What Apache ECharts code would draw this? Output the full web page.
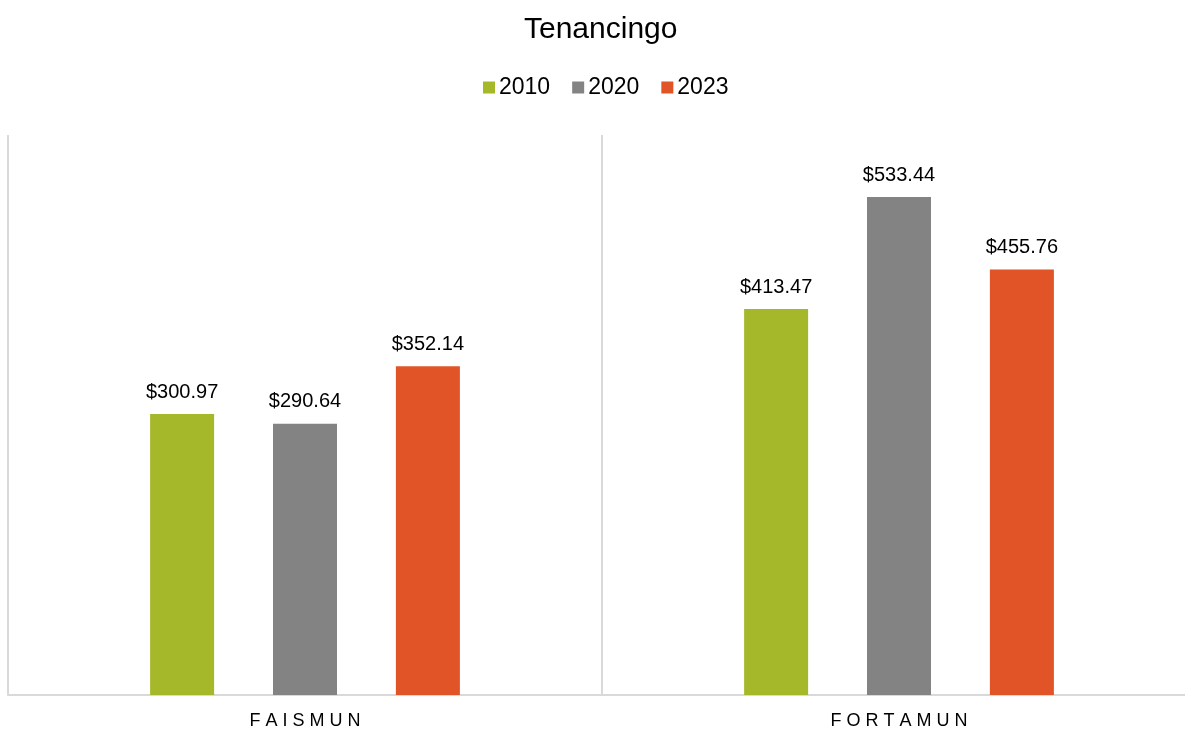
<!DOCTYPE html>
<html>
<head>
<meta charset="utf-8">
<script src="https://cdn.jsdelivr.net/npm/echarts@6/dist/echarts.min.js"></script>
<style>
  html, body { margin: 0; padding: 0; background: #fff; }
  #chart { width: 1185px; height: 731px; }
</style>
</head>
<body>
<div id="chart"></div>
<script>
    var categories = ['FAISMUN', 'FORTAMUN'];
    var years = ['2010', '2020', '2023'];
    var values2010 = [300.97, 413.47];
    var values2020 = [290.64, 533.44];
    var values2023 = [352.14, 455.76];
    var colors = ['#a5b829', '#838383', '#e05427'];

    var chart = echarts.init(document.getElementById('chart'));

    function barSeries(name, data, color) {
        return {
            name: name,
            type: 'bar',
            data: data,
            color: color,
            barWidth: 64,
            barGap: '92%',
            label: {
                show: true,
                position: 'top',
                distance: 12,
                color: '#000',
                fontSize: 20,
                fontFamily: 'Liberation Sans',
                formatter: function(p) { return '$' + p.value.toFixed(2); }
            }
        };
    }

    var option = {
        animation: false,
        textStyle: { fontFamily: 'Liberation Sans' },
        title: {
            text: 'Tenancingo',
            left: 519,
            top: 10,
            textStyle: { fontSize: 30, fontWeight: 'normal', color: '#000', fontFamily: 'Liberation Sans' }
        },
        legend: {
            data: years,
            top: 71,
            left: 478,
            itemWidth: 12,
            itemHeight: 12,
            itemGap: 22,
            icon: 'rect',
            textStyle: { fontSize: 23, color: '#000', padding: [0, 0, 0, -1] }
        },
        // plot area runs past the right edge of the canvas, like the original
        grid: { left: 8, width: 1188, top: 135, bottom: 36, outerBoundsMode: 'none', containLabel: false },
        xAxis: {
            type: 'category',
            data: categories,
            axisTick: { show: false },
            axisLine: { lineStyle: { color: '#d9d9d9', width: 2 } },
            splitLine: { show: true, lineStyle: { color: '#d9d9d9', width: 2 } },
            axisLabel: {
                color: '#000',
                fontSize: 18,
                margin: 17,
                formatter: function(v) { return v.split('').join(' '); }
            }
        },
        yAxis: {
            type: 'value',
            min: 0,
            max: 600,
            show: false,
            splitLine: { show: false }
        },
        series: [
            barSeries(years[0], values2010, colors[0]),
            barSeries(years[1], values2020, colors[1]),
            barSeries(years[2], values2023, colors[2])
        ]
    };

    chart.setOption(option);
</script>
</body>
</html>
